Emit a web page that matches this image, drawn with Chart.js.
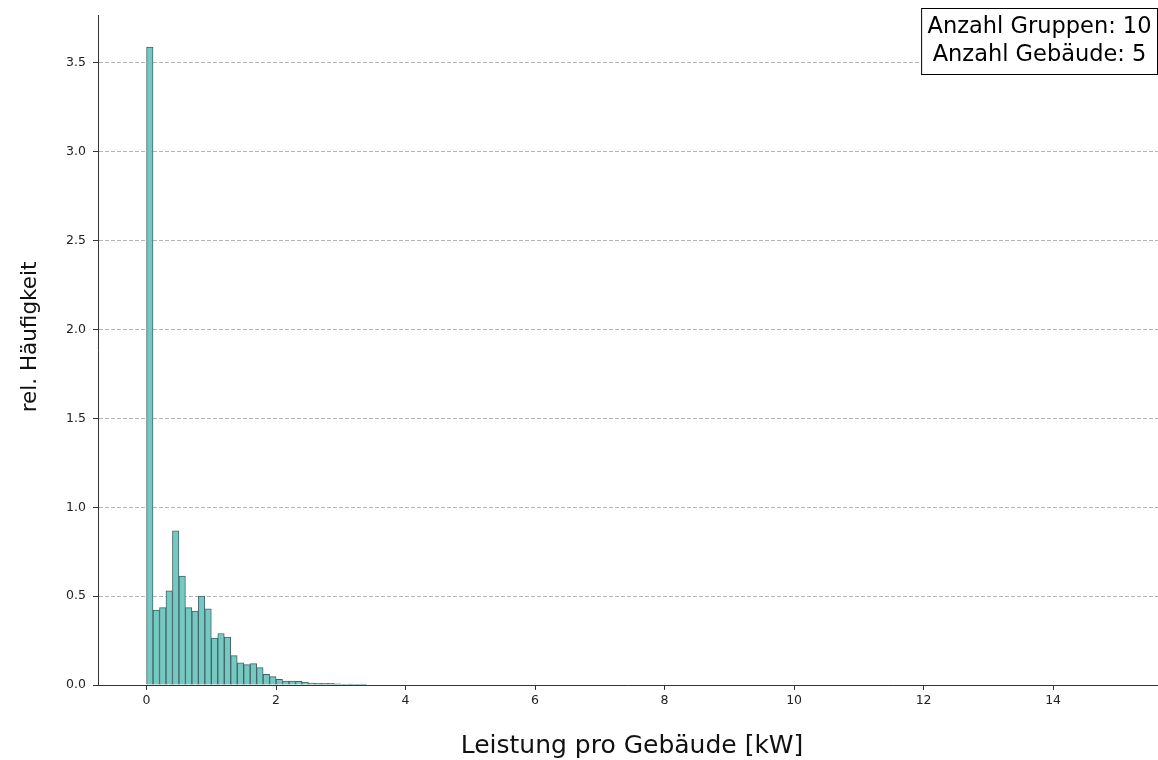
<!DOCTYPE html>
<html>
<head>
<meta charset="utf-8">
<script src="https://cdn.jsdelivr.net/npm/chart.js@4.4.1/dist/chart.umd.min.js"></script>
<style>
  html, body { margin: 0; padding: 0; background: #ffffff; }
  #wrap { width: 1158px; height: 760px; position: relative; }
</style>
</head>
<body>
<div id="wrap"><canvas id="c" width="1158" height="760"></canvas></div>
<script>
// ---- data ----
const binStart = 0;      // kW
const binWidth = 0.1;    // kW
const relFrequency = [
  3.59, 0.422, 0.435, 0.53, 0.868, 0.613, 0.435, 0.416, 0.50, 0.428,
  0.264, 0.29, 0.27, 0.165, 0.125, 0.115, 0.12, 0.098, 0.06, 0.047,
  0.032, 0.022, 0.022, 0.02, 0.016, 0.011, 0.009, 0.01, 0.01, 0.006,
  0.002, 0.005, 0.001, 0.005, 0, 0, 0, 0, 0, 0,
  0, 0, 0, 0, 0, 0, 0, 0, 0, 0,
  0, 0, 0, 0, 0, 0, 0, 0, 0, 0,
  0, 0, 0, 0, 0, 0, 0, 0, 0, 0,
  0, 0, 0, 0, 0, 0, 0, 0, 0, 0,
  0, 0, 0, 0, 0, 0, 0, 0, 0, 0,
  0, 0, 0, 0, 0, 0, 0, 0, 0, 0,
  0, 0, 0, 0, 0, 0, 0, 0, 0, 0,
  0, 0, 0, 0, 0, 0, 0, 0, 0, 0,
  0, 0, 0, 0, 0, 0, 0, 0, 0, 0,
  0, 0, 0, 0, 0, 0, 0, 0, 0, 0,
  0, 0, 0, 0, 0, 0, 0, 0, 0, 0
];
const xTickValues = [0, 2, 4, 6, 8, 10, 12, 14];
const yTickValues = [0, 0.5, 1.0, 1.5, 2.0, 2.5, 3.0, 3.5];
const xAxisTitle = 'Leistung pro Gebäude [kW]';
const yAxisTitle = 'rel. Häufigkeit';
const infoLines = ['Anzahl Gruppen: 10', 'Anzahl Gebäude: 5'];

// ---- build ----
const points = relFrequency.map((v, i) => ({ x: binStart + (i + 0.5) * binWidth, y: v }));

const FONT = "'DejaVu Sans', sans-serif";

const textPlugin = {
  id: 'textPlugin',
  afterDraw(chart) {
    const ctx = chart.ctx;
    ctx.save();
    // axis titles
    ctx.fillStyle = '#111111';
    ctx.textAlign = 'center';
    ctx.textBaseline = 'middle';
    ctx.font = '25px ' + FONT;
    ctx.fillText(xAxisTitle, 632, 746);
    ctx.save();
    ctx.translate(30, 337);
    ctx.rotate(-Math.PI / 2);
    ctx.font = '21.5px ' + FONT;
    ctx.fillText(yAxisTitle, 0, 0);
    ctx.restore();

    // info box
    ctx.font = '22.5px ' + FONT;
    const lineH = 28;
    const widths = infoLines.map(t => ctx.measureText(t).width);
    const w = Math.max(...widths) + 12;
    const h = lineH * infoLines.length + 10;
    const right = 1157.5;
    const top = 8.5;
    const left = right - w;
    ctx.fillStyle = '#ffffff';
    ctx.fillRect(left, top, w, h);
    ctx.strokeStyle = '#000000';
    ctx.lineWidth = 1;
    ctx.strokeRect(left, top, w, h);
    ctx.fillStyle = '#000000';
    infoLines.forEach((t, i) => {
      ctx.fillText(t, left + w / 2, top + 5 + lineH * (i + 0.5));
    });
    ctx.restore();
  }
};

new Chart(document.getElementById('c'), {
  type: 'bar',
  data: {
    datasets: [{
      data: points,
      backgroundColor: '#76c9c0',
      borderColor: '#3f6468',
      borderWidth: 1,
      borderSkipped: 'start',
      barPercentage: 1.0,
      categoryPercentage: 1.0,
      grouped: false
    }]
  },
  options: {
    responsive: false,
    animation: false,
    devicePixelRatio: 1,
    layout: { padding: { top: 15, right: 0, left: 0, bottom: 0 } },
    plugins: { legend: { display: false }, tooltip: { enabled: false } },
    scales: {
      x: {
        type: 'linear',
        offset: false,
        min: -0.75,
        max: 15.62,
        afterBuildTicks(scale) { scale.ticks = xTickValues.map(v => ({ value: v })); },
        afterFit(scale) { scale.height = 75; },
        ticks: {
          autoSkip: false, maxRotation: 0, padding: 3,
          color: '#222', font: { family: FONT, size: 12.5 },
          callback: v => String(v)
        },
        grid: { offset: false, drawOnChartArea: false, drawTicks: true, tickLength: 5, tickColor: '#333', tickWidth: 1 },
        border: { display: true, color: '#333', width: 1 },
        title: { display: false }
      },
      y: {
        type: 'linear',
        min: 0,
        max: 3.77,
        afterBuildTicks(scale) { scale.ticks = yTickValues.map(v => ({ value: v })); },
        afterFit(scale) { scale.width = 98; },
        ticks: {
          autoSkip: false, padding: 7,
          color: '#222', font: { family: FONT, size: 12.5 },
          callback: v => Number(v).toFixed(1)
        },
        grid: {
          color: '#b5b5b5', lineWidth: 1,
          drawTicks: true, tickLength: 5, tickColor: '#333', tickBorderDash: [], tickWidth: 1
        },
        border: { display: true, color: '#333', width: 1, dash: [4, 2] },
        title: { display: false }
      }
    }
  },
  plugins: [textPlugin]
});
</script>
</body>
</html>
